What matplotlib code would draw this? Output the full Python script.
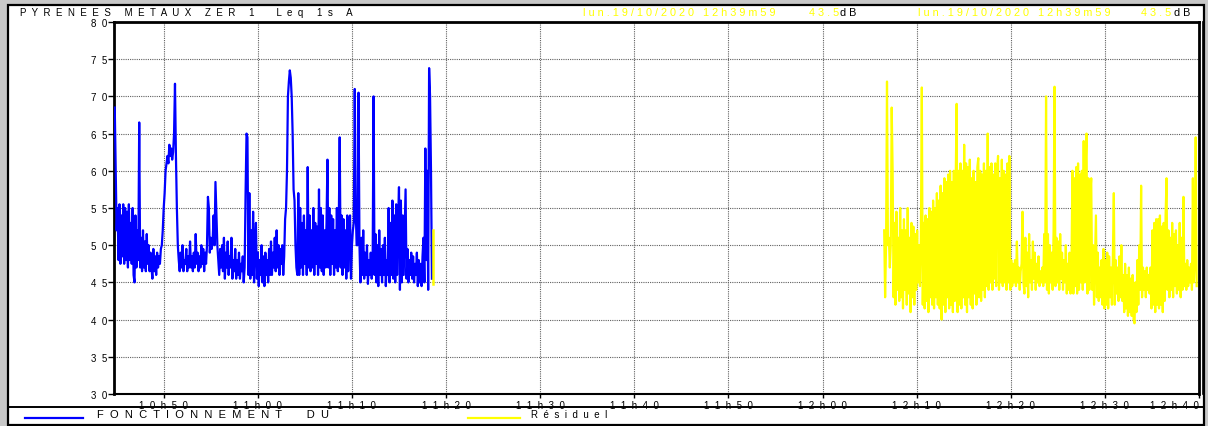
import numpy as np
import matplotlib.pyplot as plt
from matplotlib.patches import Rectangle
from matplotlib.lines import Line2D

# time axis in minutes after 10h00
x_ticks = [50, 60, 70, 80, 90, 100, 110, 120, 130, 140, 150, 160]
x_labels = ["10h50", "11h00", "11h10", "11h20", "11h30", "11h40",
            "11h50", "12h00", "12h10", "12h20", "12h30", "12h40"]
y_ticks = [30, 35, 40, 45, 50, 55, 60, 65, 70, 75, 80]

# Leq 1s A, one value read every 0.1 min
fonct_start = 44.8
fonct_step = 0.1
fonctionnement = [
  68.5, 60, 52, 55, 48, 55.5, 47.5, 54, 48.5, 55.5,
  47.5, 55, 48, 54.5, 47, 55.5, 48, 53, 47.5, 55,
  46, 45, 54, 47, 52, 48, 66.5, 47, 51, 46.5,
  52, 47, 50.5, 46.5, 51.5, 47.5, 50, 46.5, 49, 47,
  45.5, 49.5, 46.5, 48.5, 46, 49, 47, 48.5, 47.5, 49.5,
  50, 52, 55, 57, 60, 61, 62, 61, 63.5, 62,
  63, 61.5, 62.5, 65, 71.7, 62, 55, 50, 48, 46.5,
  49, 47, 50, 46.5, 48, 47.5, 49.5, 46.5, 48.5, 47,
  50.5, 47, 48.5, 46.5, 49, 47, 51.5, 47.5, 49, 46.5,
  48.5, 47, 50, 47.5, 49.5, 46.5, 49, 47.5, 50, 56.5,
  55, 49, 51, 49.5, 50.5, 54, 50, 58.5, 54, 50,
  48, 46, 49.5, 47, 50, 46.5, 51, 45.5, 49, 47,
  50.5, 46, 48.5, 47, 51, 45.5, 48, 46.5, 49.5, 45.5,
  48, 46, 49, 45.5, 47.5, 46.5, 48.5, 45, 47, 57,
  65, 64.5, 46, 57, 45.5, 52, 46, 54.5, 45, 50,
  53, 45.5, 49, 44.5, 48, 46, 50, 45, 48.5, 44.5,
  49, 46, 48, 45, 49.5, 46, 50.5, 46, 49, 47,
  51, 46.5, 52, 47, 50, 46, 49.5, 47.5, 50, 46,
  48.5, 53.5, 55, 60, 70, 72, 73.5, 72.5, 70, 65,
  57.5, 56, 50, 47, 46, 57, 46, 55, 47, 53,
  46, 54, 47.5, 52, 46, 60.5, 47, 54, 46.5, 52,
  47, 55, 46, 53, 47.5, 52.5, 46, 57.5, 47, 55,
  46.5, 54, 46, 52, 47, 53, 61.5, 47, 55, 46,
  54, 47.5, 53.5, 46, 52, 47, 55, 46.5, 53, 64.5,
  47, 54, 46, 53.5, 47, 52, 45.5, 54, 46.5, 53,
  54, 45.5, 50, 52, 53, 71, 55, 50, 50, 70.5,
  50, 45, 51, 46, 52, 45.5, 49, 46, 50, 44.8,
  48, 46, 49, 45.5, 47.5, 70, 46, 51.5, 45, 50,
  44.5, 52, 46, 49.5, 45, 50, 46, 51, 44.5, 48,
  46, 55, 45, 53, 46, 56, 45.5, 54, 45, 55.5,
  46, 53, 57.8, 44, 56, 45, 54, 46, 52, 57.5,
  45.5, 49.5, 45, 48, 46, 49, 45.5, 48.5, 45, 47.5,
  46, 49, 44.5, 48, 45, 47.5, 44.5, 48.5, 51, 45,
  63, 48, 60, 44, 73.8, 70, 60, 45.5,
]

# short residual step drawn at the end of the first recording
resid_jump_t = 78.6
resid_jump = [52, 44.8]

resid_start = 126.55
resid_step = 0.1
residuel = [
  52, 43, 50, 72, 50, 51, 47, 50, 68.5, 60,
  43, 53, 42, 54.5, 44, 51, 42.5, 55, 43, 52,
  41.5, 53.5, 44, 52, 42, 55, 43.5, 51, 41, 53,
  43, 52.5, 42, 51.5, 44, 52, 45, 50, 44.5, 51,
  71.2, 42, 53, 41.5, 54, 42.5, 53.5, 41, 55, 43,
  54.5, 42, 56, 41.5, 55, 43, 57, 42, 56, 41.5,
  58, 40, 57, 42, 59, 41, 58.5, 43, 59.5, 41.5,
  60, 42, 58.5, 41, 60, 42.5, 59, 69, 41, 60,
  42, 61, 41.5, 60, 43, 63.5, 42, 61, 41, 60.5,
  43, 61.5, 42, 59, 41.5, 60, 43.5, 58.5, 42, 60.5,
  61.7, 43, 60, 42.5, 59.5, 44, 61, 43, 60, 44.5,
  65, 44, 60.5, 45, 61, 44, 59.5, 45.5, 61, 44.5,
  60, 62, 44, 59, 45, 61.5, 44.5, 60, 45, 59.5,
  44, 61, 45, 62, 44, 48, 44.5, 47.5, 45, 48,
  44.5, 50.5, 45, 47, 44, 46.5, 47.5, 54.5, 45, 43.5,
  51, 44.5, 49, 43, 51.5, 45, 48, 44, 50.5, 45.5,
  49, 44, 47.5, 45, 48.5, 44.5, 46.5, 45, 47, 44.5,
  51.5, 45, 70, 44, 51.5, 43.5, 50, 45, 49, 44,
  52, 71.3, 44.5, 51, 45, 50.5, 44, 51.5, 45.5, 49,
  44, 48, 45, 50, 43.5, 47.5, 44, 49, 43.5, 47,
  60, 43.5, 59, 44.5, 60.5, 43.5, 61, 44, 59.5, 45,
  60, 44, 64, 45, 60.5, 65, 43.5, 59, 44, 57,
  59, 44, 50, 42, 48, 54, 43, 49, 42.5, 47,
  43, 48, 42, 49.5, 41.5, 48, 42, 49, 41.5, 48.5,
  43, 47, 42, 48.5, 57, 42, 48, 43.5, 47, 42.5,
  48.5, 43, 50, 42.5, 46, 41, 47.5, 41.5, 46, 40.5,
  47, 41, 45.5, 40.5, 46, 40, 39.5, 45, 41, 48,
  42, 50, 44, 58, 43, 47, 44, 46.5, 43, 47,
  44, 46, 43.5, 47, 41.5, 52, 42, 53, 41, 53.5,
  42, 53.5, 41.5, 54, 42, 52.5, 41, 53, 42.5, 54,
  59, 44, 52, 43, 51, 44, 53, 43, 51.5, 44.5,
  52, 43.5, 50, 44, 53, 43, 51, 44, 56.5, 44.5,
  47.5, 44, 48, 44.5, 47, 45, 47.5, 44, 59, 45,
  48, 64.5, 44.5,
]


def spaced(text, n=2):
  #letter spacing like the original sonometer print
  return (" " * n).join(text)


def px(x, y):
  #pixel position -> figure fraction
  return x / 1208, 1 - y / 427


def draw_frame(fig):
  #grey background outside the frame
  fig.patches.append(Rectangle((0, 0), 1, 1, transform=fig.transFigure,
                               facecolor="#c8c8c8", edgecolor="none", zorder=-3))
  x0, y1 = px(8, 6)
  x1, y0 = px(1204, 426)
  fig.patches.append(Rectangle((x0, y0), x1 - x0, y1 - y0, transform=fig.transFigure,
                               facecolor="white", edgecolor="black", linewidth=1.6, zorder=-2))
  #line above the legend row
  lx0, ly = px(8, 408)
  lx1, _ = px(1204, 408)
  fig.lines.append(Line2D([lx0, lx1], [ly, ly], transform=fig.transFigure,
                          color="black", linewidth=1.4))
  #double line on the right of the plot
  rx, ry0 = px(1203, 395)
  _, ry1 = px(1203, 23)
  fig.lines.append(Line2D([rx, rx], [ry0, ry1], transform=fig.transFigure,
                          color="black", linewidth=1.2))


def draw_header(fig):
  font = dict(family="Liberation Sans", va="center")
  fig.text(*px(20, 13), spaced("PYRENEES METAUX ZER 1  Leq 1s A"), color="black",
           fontsize=7, **font)
  for start, val_x, db_x in [(583, 809, 840), (918, 1141, 1174)]:
    fig.text(*px(start, 13), spaced("lun.19/10/2020 12h39m59", 1),
             color="#ffff00", fontsize=7.8, **font)
    fig.text(*px(val_x, 13), spaced("43.5", 1), color="#ffff00", fontsize=7.8, **font)
    fig.text(*px(db_x, 13), spaced("dB", 1), color="black", fontsize=7.8, **font)


def draw_legend(fig):
  font = dict(family="Liberation Sans", va="center")
  for x0, x1, color, label, tx, size in [(25, 83, "#0000ff", "FONCTIONNEMENT  DU", 97, 8),
                                         (468, 520, "#ffff00", "Résiduel", 531, 7)]:
    a, b = px(x0, 419)
    c, _ = px(x1, 419)
    fig.lines.append(Line2D([a, c], [b, b], transform=fig.transFigure, color=color, linewidth=1.6))
    fig.text(*px(tx, 415), spaced(label), color="black", fontsize=size, **font)


def main():
  fig = plt.figure(figsize=(12.08, 4.27), dpi=100)
  draw_frame(fig)

  left, bottom = px(114, 395)
  right, top = px(1199, 23)
  ax = fig.add_axes([left, bottom, right - left, top - bottom])

  t_fonct = fonct_start + fonct_step * np.arange(len(fonctionnement))
  t_resid = resid_start + resid_step * np.arange(len(residuel))

  ax.plot(t_fonct, fonctionnement, color="#0000ff", linewidth=1.6, zorder=3)
  ax.plot([resid_jump_t, resid_jump_t], resid_jump, color="#ffff00", linewidth=1.8, zorder=3)
  ax.plot(t_resid, residuel, color="#ffff00", linewidth=1.6, zorder=3)

  ax.set_xlim(44.72, 159.9)
  ax.set_ylim(30, 80)

  ax.set_xticks(x_ticks)
  ax.set_xticklabels([spaced(s) for s in x_labels], fontsize=7, family="Liberation Sans")
  ax.get_xticklabels()[-1].set_horizontalalignment("right")
  ax.set_yticks(y_ticks)
  ax.set_yticklabels([spaced(str(v)) for v in y_ticks], fontsize=7, family="Liberation Sans")
  ax.tick_params(axis="y", direction="out", length=4, width=1, pad=1, colors="black")
  ax.tick_params(axis="x", direction="out", length=3, width=1, pad=1, colors="black")

  #dotted grid
  for v in x_ticks[:-1]:
    ax.axvline(v, color="#606060", linestyle=(0, (1, 1)), linewidth=0.8, zorder=1)
  for v in y_ticks[1:-1]:
    ax.axhline(v, color="#606060", linestyle=(0, (1, 1)), linewidth=0.8, zorder=1)

  ax.spines["left"].set_linewidth(2)
  ax.spines["top"].set_linewidth(2)
  ax.spines["bottom"].set_linewidth(1.5)
  ax.spines["right"].set_linewidth(2)

  draw_header(fig)
  draw_legend(fig)

  fig.savefig("out.png", dpi=100)


if __name__ == "__main__":
  main()
